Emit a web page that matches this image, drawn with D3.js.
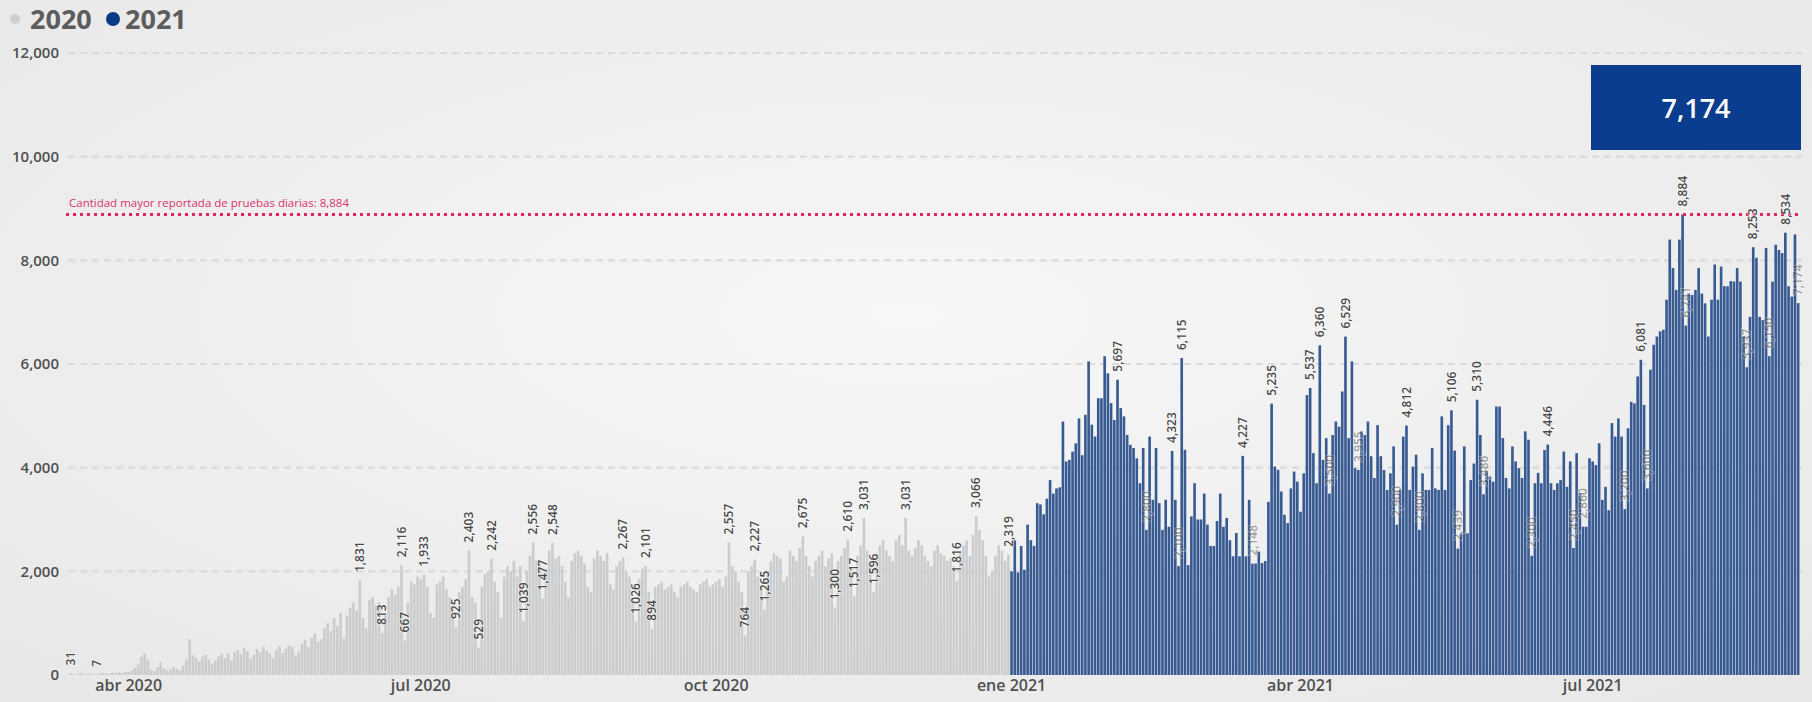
<!DOCTYPE html>
<html><head><meta charset="utf-8">
<script src="https://cdn.jsdelivr.net/npm/d3@7"></script>
<style>html,body{margin:0;padding:0;background:#efefef;} svg{display:block;font-family:"Open Sans",sans-serif;}</style>
</head><body><svg id="chart" width="1812" height="702"></svg>
<script>
const startDate = "2020-03-14";
const tests2020 = [
31,10,15,35,20,12,25,18,7,22,40,30,28,45,38,55,42,60,
60,90,140,200,350,420,300,110,80,150,240,130,90,110,150,120,90,180,300,690,380,330,260,350,390,300,220,280,360,410,
330,420,280,440,480,400,520,460,310,390,500,440,540,470,420,330,480,560,430,510,570,540,380,450,600,680,540,720,800,640,690,
900,1000,850,1100,950,1200,700,1150,1300,1400,1250,1831,1100,900,1450,1500,1350,1400,813,1200,1500,1650,1550,1700,2116,667,1400,1800,1750,1900,
1850,1933,1700,1200,1100,1750,1800,1900,1650,1500,1300,925,1600,1700,1850,2403,1500,1400,529,1700,1950,2000,2242,1800,1600,1100,1900,2100,2000,2200,1900,
2100,1039,2000,2300,2556,2200,2150,1477,2050,2400,2548,2250,2300,2100,1800,1500,2200,2350,2400,2300,2150,1700,1600,2250,2400,2300,2200,2350,1750,1650,2100,
2200,2267,2000,1900,1500,1026,1850,2050,2101,1600,894,1700,1750,1800,1650,1700,1750,1600,1500,1700,1750,1800,1700,1650,1600,1750,1800,1850,1700,1750,
1800,1850,1700,1900,2557,2100,2000,1800,1600,764,2000,2100,2227,1900,1700,1265,2000,2200,2350,2300,2250,1800,1900,2400,2300,2200,2450,2675,2300,2100,1900,
2200,2300,2400,2100,2250,2350,1300,2200,2300,2450,2610,2000,1517,2300,2500,3031,2400,2200,1596,2350,2500,2600,2400,2300,2200,2600,2700,2500,3031,2400,
2300,2450,2600,2500,2300,2200,2100,2400,2500,2350,2300,2200,2250,2100,1816,2400,2500,2600,2300,2700,3066,2800,2600,2300,1900,2000,2300,2500,2400,2200,2319
];
const tests2021 = [
2000,2600,1980,2490,2030,2900,2600,2490,3315,3290,
3100,3400,3760,3500,3600,3620,4890,4120,4150,4310,
4470,4950,4240,5020,6050,4830,4600,5340,5340,6150,
5820,5245,4920,5697,5150,4990,4630,4440,4380,4180,
3700,4380,2800,4600,3380,4380,3315,2800,3380,2860,
4323,3380,2100,6115,4345,2120,3060,3700,3000,3000,
3500,2900,2490,2490,2970,3500,2860,3030,2600,2290,
2740,2290,4227,2290,3380,2148,2150,2380,2160,2200,
3340,5235,4020,3960,3540,3090,2930,3600,3925,3730,
3150,3890,5400,5537,4280,3700,6360,4150,4570,3500,
4630,4890,4790,5470,6529,4570,6050,3990,3955,4700,
4630,4890,4220,3800,4820,4220,3955,3570,3890,4410,
2900,3570,4600,4812,3570,4020,4250,2800,3890,3570,
3570,4380,3600,3570,4990,3570,4820,5106,4330,2439,
2733,4410,2733,3760,4080,5310,4630,3486,3925,3830,
3730,5180,5180,4570,3800,3600,4410,4120,3990,3800,
4700,4540,2300,3700,3900,3700,4340,4446,3700,3570,
3700,3760,4310,3630,4120,2450,4280,3500,2860,2860,
4180,4120,4050,4470,3380,3630,3180,4860,4600,4950,
4600,3200,4760,5270,5240,5760,6081,5210,3600,5890,
6370,6530,6630,6660,7240,8400,7850,7430,8400,8884,
6741,7360,7330,7430,7850,7360,7170,6530,7240,7920,
7240,7880,7500,7500,7600,7590,7850,7590,6530,5937,
6910,8253,8050,6910,6850,8240,6150,7590,8300,8200,
8140,8534,7500,7300,8500,7174
];
const labelDates = [
"2020-03-14","2020-03-22","2020-06-12","2020-06-19","2020-06-25","2020-06-26","2020-07-02","2020-07-12","2020-07-16","2020-07-19","2020-07-23",
"2020-08-02","2020-08-05","2020-08-08","2020-08-11","2020-09-02","2020-09-06","2020-09-09","2020-09-11","2020-10-05","2020-10-10","2020-10-13",
"2020-10-16","2020-10-28","2020-11-07","2020-11-11","2020-11-13","2020-11-16","2020-11-19","2020-11-29","2020-12-15","2020-12-21","2020-12-31",
"2021-02-03","2021-02-20","2021-02-23","2021-03-14","2021-03-23","2021-04-04","2021-04-07",
"2021-04-15","2021-05-04","2021-05-18","2021-05-26","2021-06-17",
"2021-07-16","2021-07-29","2021-08-20","2021-08-30"
];
const hiddenLabelDates = [
"2021-02-12","2021-02-22","2021-03-17","2021-04-10","2021-04-19","2021-05-01","2021-05-08","2021-05-20","2021-05-28","2021-06-12",
"2021-06-25","2021-06-28","2021-07-11","2021-07-18","2021-07-30","2021-08-18","2021-08-25","2021-09-03"
];
const yTicks = [0,2000,4000,6000,8000,10000,12000];
const xTickDates = ["2020-04-01","2020-07-01","2020-10-01","2021-01-01","2021-04-01","2021-07-01"];
const monthNames = ["ene","feb","mar","abr","may","jun","jul","ago","sep","oct","nov","dic"];
const seriesNames = ["2020","2021"];
const seriesColors = ["#cbcccd","#385a92"];
const legendDotColors = ["#cfcfcf","#0b3a86"];
const maxValue = 8884;
const maxLabel = "Cantidad mayor reportada de pruebas diarias: 8,884";
const latestValue = 7174;

const svg = d3.select("#chart");
const W = 1812, H = 702;
const parse = d3.timeParse("%Y-%m-%d");
const key = d3.timeFormat("%Y-%m-%d");
const start = parse(startDate);
const data = tests2020.concat(tests2021).map((v,i)=>{
  const dt = d3.timeDay.offset(start,i);
  return {date: dt, key: key(dt), value: v, s: i < tests2020.length ? 0 : 1};
});
const byKey = new Map(data.map(d=>[d.key,d]));

// background
const defs = svg.append("defs");
const rg = defs.append("radialGradient").attr("id","bg").attr("cx","50%").attr("cy","45%").attr("r","75%");
rg.append("stop").attr("offset","0%").attr("stop-color","#f7f7f7");
rg.append("stop").attr("offset","100%").attr("stop-color","#e7e7e7");
svg.append("rect").attr("width",W).attr("height",H).attr("fill","url(#bg)");

const x = d3.scaleBand().domain(data.map(d=>d.key)).range([69.5,1799.5]).paddingInner(0.18);
const y = d3.scaleLinear().domain([0,12000]).range([675,53]);

// gridlines
svg.append("g").selectAll("line").data(yTicks.filter(t=>t>0)).join("line")
  .attr("x1",68).attr("x2",1802).attr("y1",d=>y(d)).attr("y2",d=>y(d))
  .attr("stroke","#dadada").attr("stroke-width",2.2).attr("stroke-dasharray","7,5");

// y axis
const yAxis = d3.axisLeft(y).tickValues(yTicks).tickFormat(d3.format(",")).tickSize(0).tickPadding(0);
const yg = svg.append("g").attr("transform","translate(59,0)").call(yAxis);
yg.select(".domain").remove();
yg.selectAll("text").attr("font-family","'Open Sans',sans-serif").attr("font-size",15).attr("font-weight",600).attr("fill","#505050");

// bars
svg.append("g").selectAll("rect").data(data).join("rect")
  .attr("x",d=>x(d.key)).attr("width",x.bandwidth())
  .attr("y",d=>y(d.value)).attr("height",d=>y(0)-y(d.value))
  .attr("fill",d=>seriesColors[d.s]);

// x axis
const fmtTick = k => { const d = parse(k); return monthNames[d.getMonth()] + " " + d.getFullYear(); };
const xAxis = d3.axisBottom(x).tickValues(xTickDates).tickFormat(fmtTick).tickSize(0).tickPadding(0);
const xg = svg.append("g").attr("transform","translate(0,680)").call(xAxis);
xg.select(".domain").remove();
xg.selectAll("text").attr("font-family","'Open Sans',sans-serif").attr("font-size",16).attr("font-weight",600).attr("fill","#505050");

// max line
svg.append("line").attr("x1",66).attr("x2",1802).attr("y1",y(maxValue)).attr("y2",y(maxValue))
  .attr("stroke","#e2245a").attr("stroke-width",3).attr("stroke-dasharray","3,4");
svg.append("text").attr("x",69).attr("y",y(maxValue)-8).text(maxLabel)
  .attr("font-size",11.5).attr("fill","#d9336a");

// data labels
const fmtN = d3.format(",");
const labelPos = d=>`translate(${x(d.key)+x.bandwidth()/2},${y(d.value)-8}) rotate(-90)`;
svg.append("g").selectAll("text").data(hiddenLabelDates.map(k=>byKey.get(k)).filter(Boolean)).join("text")
  .attr("transform",labelPos).attr("dy","0.35em").attr("text-anchor","start")
  .attr("font-size",12).attr("font-weight",600).attr("fill","#3c3c3c").attr("opacity",0.45)
  .attr("stroke","rgba(255,255,255,0.8)").attr("stroke-width",1.6).attr("paint-order","stroke")
  .text(d=>fmtN(d.value));
svg.append("g").selectAll("text").data(labelDates.map(k=>byKey.get(k)).filter(Boolean)).join("text")
  .attr("transform",labelPos).attr("dy","0.35em").attr("text-anchor","start")
  .attr("font-size",12).attr("font-weight",600).attr("fill","#4a4a4a")
  .attr("stroke","rgba(255,255,255,0.55)").attr("stroke-width",1.6).attr("paint-order","stroke")
  .text(d=>fmtN(d.value));

// legend
const lg = svg.append("g");
lg.append("circle").attr("cx",15).attr("cy",19).attr("r",5).attr("fill",legendDotColors[0]);
lg.append("text").attr("x",30).attr("y",29).text(seriesNames[0]).attr("font-size",27).attr("font-weight",700).attr("fill","#5c5c5c");
lg.append("circle").attr("cx",113).attr("cy",19).attr("r",7).attr("fill",legendDotColors[1]);
lg.append("text").attr("x",125).attr("y",29).text(seriesNames[1]).attr("font-size",27).attr("font-weight",700).attr("fill","#5c5c5c");

// latest value box
svg.append("rect").attr("x",1591).attr("y",65).attr("width",210).attr("height",85).attr("fill","#0b3d8e");
svg.append("text").attr("x",1696).attr("y",118).attr("text-anchor","middle").text(fmtN(latestValue))
  .attr("font-size",27).attr("font-weight",600).attr("fill","#ffffff");
</script></body></html>
